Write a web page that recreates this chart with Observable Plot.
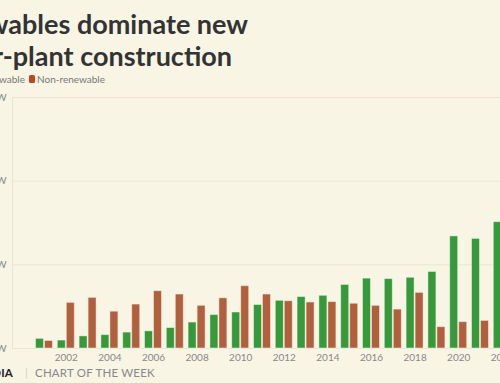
<!DOCTYPE html>
<html>
<head>
<meta charset="utf-8">
<script src="https://cdn.jsdelivr.net/npm/d3@7"></script>
<script src="https://cdn.jsdelivr.net/npm/@observablehq/plot@0.6"></script>
<style>
  html, body { margin: 0; padding: 0; background: #f8f5e5; }
  #frame { position: relative; width: 500px; height: 383px; overflow: hidden; background: #f8f5e5; font-family: Lato, "Noto Sans", sans-serif; }
  #title { position: absolute; top: 8px; left: 0; margin: 0; font-weight: 700; font-size: 27px; line-height: 32px; color: #333; white-space: nowrap; }
  #title span { display: block; position: relative; width: max-content; }
  .leg { position: absolute; top: 73px; font-size: 10px; line-height: 12px; color: #777; white-space: nowrap; display: flex; align-items: center; }
  .sw { display: inline-block; width: 6px; height: 8px; border-radius: 1.5px; margin-right: 2px; }
  #chart { position: absolute; left: -40px; top: 85px; width: 574px; height: 283px; }
  #chart svg { max-width: none !important; }
  .foot { position: absolute; top: 366px; font-size: 11.5px; line-height: 14px; white-space: nowrap; letter-spacing: 0.2px; }
</style>
</head>
<body>
<div id="frame">
  <h1 id="title"><span id="l1">Renewables dominate new</span><span id="l2">power-plant construction</span></h1>
  <div class="leg" id="leg1"><span class="sw" style="background:#36993a"></span>Renewable</div>
  <div class="leg" id="leg2" style="left:29px"><span class="sw" style="background:#c0461e"></span>Non-renewable</div>
  <div id="chart"></div>
  <div class="foot" id="brand" style="right:487px;font-weight:700;color:#222;">CANARY MEDIA</div>
  <div class="foot" style="left:25px;color:#d4d0c0;">|</div>
  <div class="foot" style="left:35px;color:#888;">CHART OF THE WEEK</div>
</div>
<script>
const years = [2001, 2002, 2003, 2004, 2005, 2006, 2007, 2008, 2009, 2010, 2011,
               2012, 2013, 2014, 2015, 2016, 2017, 2018, 2019, 2020, 2021, 2022];
const renewable = [2.3, 1.9, 2.9, 3.2, 3.8, 4.1, 4.9, 6.2, 8.0, 8.6, 10.4,
                   11.4, 12.3, 12.6, 15.2, 16.7, 16.6, 16.9, 18.3, 26.8, 26.2, 30.2];
const nonRenewable = [1.8, 10.9, 12.1, 8.8, 10.5, 13.7, 12.9, 10.2, 12.0, 14.9, 12.9,
                      11.3, 11.0, 11.1, 10.7, 10.2, 9.3, 13.3, 5.1, 6.3, 6.6, null];
const yTicks = [0, 20, 40, 60];
const xTickYears = [2002, 2004, 2006, 2008, 2010, 2012, 2014, 2016, 2018, 2020, 2022];

const rows = years.flatMap((year, i) => [
  {year, type: "Renewable", value: renewable[i]},
  {year, type: "Non-renewable", value: nonRenewable[i]}
]).filter(d => d.value != null);

const green = "#36993a";
const orange = "#b0603c";

const chart = Plot.plot({
  width: 574,
  height: 283,
  marginLeft: 52,
  marginRight: 0,
  marginTop: 12,
  marginBottom: 20,
  style: {background: "transparent", fontFamily: "Lato, 'Noto Sans', sans-serif", fontSize: "10px", color: "#888", overflow: "visible", maxWidth: "none"},
  x: {type: "band", domain: years, range: [75.5, 550.3], paddingInner: 0.22, paddingOuter: 0, align: 0.5, round: false,
      label: null, tickSize: 0, tickPadding: 5,
      tickFormat: d => xTickYears.includes(d) ? String(d) : ""},
  y: {domain: [0, 60], ticks: yTicks, tickFormat: d => d + " GW", label: null, tickSize: 0, tickPadding: 6},
  marks: [
    Plot.ruleY(yTicks, {stroke: "#e9e5d2", strokeWidth: 1}),
    Plot.frame({stroke: "#e9e5d2"}),
    Plot.barY(rows.filter(d => d.type === "Renewable"), {
      x: "year", y: "value", fill: green, insetRight: 9,
      stroke: "#ffffff", strokeOpacity: 0.45, strokeWidth: 1
    }),
    Plot.barY(rows.filter(d => d.type === "Non-renewable"), {
      x: "year", y: "value", fill: orange, insetLeft: 9,
      stroke: "#ffffff", strokeOpacity: 0.45, strokeWidth: 1
    })
  ]
});
chart.style.maxWidth = "none";
chart.style.width = "574px";
chart.style.height = "283px";
document.getElementById("chart").appendChild(chart);

// align each title line's right end with the reference
const l1 = document.getElementById("l1");
const l2 = document.getElementById("l2");
l1.style.left = (248 - l1.getBoundingClientRect().width) + "px";
l2.style.left = (232 - l2.getBoundingClientRect().width) + "px";
// legend first item ends just before the second
const leg1 = document.getElementById("leg1");
leg1.style.left = (25 - leg1.getBoundingClientRect().width) + "px";
</script>
</body>
</html>
